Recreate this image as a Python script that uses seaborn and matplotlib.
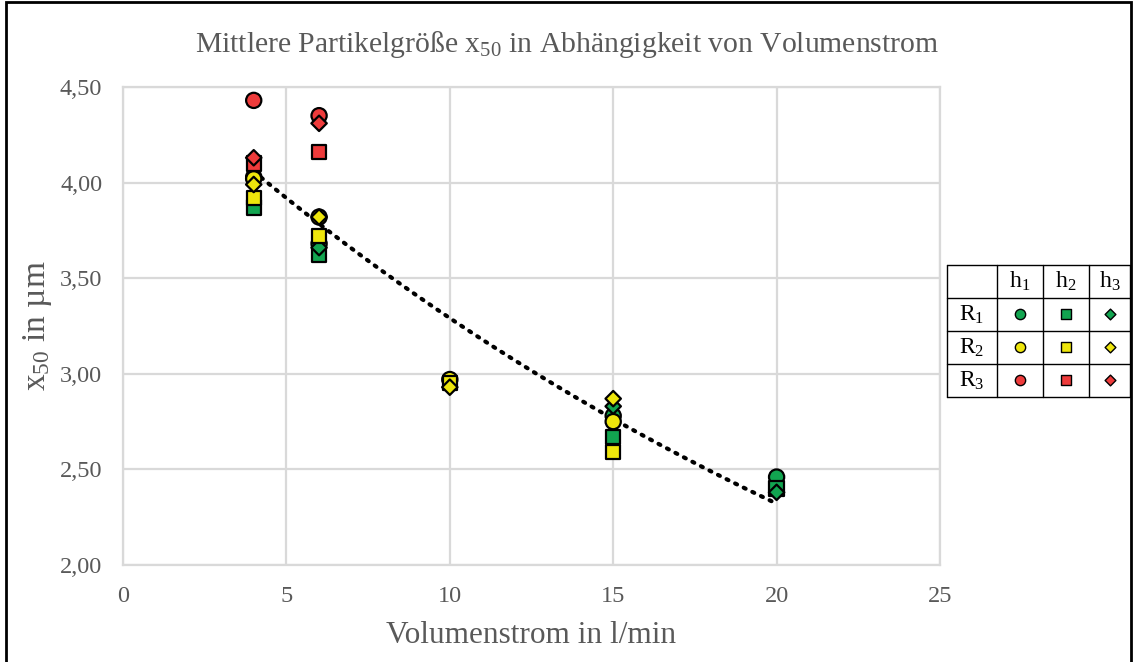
import numpy as np
import pandas as pd
import matplotlib
matplotlib.use("Agg")
import matplotlib.pyplot as plt
import seaborn as sns
from matplotlib.patches import Rectangle
from matplotlib.ticker import FuncFormatter, MultipleLocator

# ---------------- data ----------------
r_labels = ["R1", "R2", "R3"]
h_labels = ["h1", "h2", "h3"]

r1_x = [4, 6, 15, 20]
r1_h1 = [4.03, 3.68, 2.78, 2.46]
r1_h2 = [3.87, 3.62, 2.67, 2.40]
r1_h3 = [4.02, 3.66, 2.83, 2.38]

r2_x = [4, 6, 10, 15]
r2_h1 = [4.02, 3.82, 2.97, 2.75]
r2_h2 = [3.92, 3.72, 2.95, 2.59]
r2_h3 = [3.99, 3.82, 2.93, 2.87]

r3_x = [4, 6]
r3_h1 = [4.43, 4.35]
r3_h2 = [4.10, 4.16]
r3_h3 = [4.13, 4.31]

rows = []
for r, xs, series in [("R1", r1_x, [r1_h1, r1_h2, r1_h3]),
                      ("R2", r2_x, [r2_h1, r2_h2, r2_h3]),
                      ("R3", r3_x, [r3_h1, r3_h2, r3_h3])]:
    for h, ys in zip(h_labels, series):
        for x, y in zip(xs, ys):
            rows.append({"x": x, "y": y, "R": r, "h": h})
df = pd.DataFrame(rows)

palette = {"R1": "#12A550", "R2": "#EEE60C", "R3": "#EE3B3B"}
markers = {"h1": "o", "h2": "s", "h3": "D"}
msizes = {"h1": 120, "h2": 105, "h3": 62}

# ---------------- style ----------------
sns.set_style("white")
plt.rcParams["font.family"] = ["Liberation Serif", "DejaVu Serif"]
plt.rcParams["mathtext.fontset"] = "custom"
plt.rcParams["mathtext.rm"] = "Liberation Serif"
plt.rcParams["mathtext.it"] = "Liberation Serif"
plt.rcParams["mathtext.default"] = "rm"

W, H = 1135, 662
fig = plt.figure(figsize=(W / 100, H / 100), dpi=100)
ax = fig.add_axes([123 / W, 1 - 565 / H, (940 - 123) / W, (565 - 87) / H])

gray = "#595959"
gridc = "#D9D9D9"

# exponential trendline fitted on all data points (like Excel's exp trend)
b, ln_a = np.polyfit(df["x"], np.log(df["y"]), 1)
xt = np.linspace(df["x"].min(), df["x"].max(), 200)
yt = np.exp(ln_a) * np.exp(b * xt)
ax.plot(xt, yt, color="black", lw=3.0, linestyle=(0, (0.5, 1.8)),
        dash_capstyle="round", zorder=2)

sns.scatterplot(data=df, x="x", y="y", hue="R", style="h", size="h",
                palette=palette, markers=markers, sizes=msizes,
                edgecolor="black", linewidth=1.6,
                legend=False, ax=ax, zorder=3)

ax.set_xlim(0, 25)
ax.set_ylim(2.0, 4.5)
ax.xaxis.set_major_locator(MultipleLocator(5))
ax.yaxis.set_major_locator(MultipleLocator(0.5))
ax.yaxis.set_major_formatter(FuncFormatter(lambda v, p: f"{v:.2f}".replace(".", ",")))
ax.grid(True, color=gridc, lw=1.6)
ax.set_axisbelow(True)
for s in ax.spines.values():
    s.set_color(gridc)
    s.set_linewidth(1.6)
ax.tick_params(axis="x", length=0, labelsize=17.5, colors=gray, pad=15)
ax.tick_params(axis="y", length=0, labelsize=17.5, colors=gray, pad=15)
ax.set_xlabel("Volumenstrom in l/min", fontsize=22.5, color=gray, labelpad=10)
ax.xaxis.set_label_coords(537 / W, -0.03, transform=fig.transFigure) if False else None
ax.set_ylabel("x$_{50}$ in µm", fontsize=24, color=gray, labelpad=4)
fig.text(567 / W, 1 - 45 / H,
         "Mittlere Partikelgröße x$_{50}$ in Abhängigkeit von Volumenstrom",
         ha="center", va="center", fontsize=21.3, color=gray)

# ---------------- legend table ----------------
lx0, lx1, ly0, ly1 = 947, 1130, 265, 397
lax = fig.add_axes([lx0 / W, 1 - ly1 / H, (lx1 - lx0) / W, (ly1 - ly0) / H])
col_edges = [947, 997, 1043, 1089, 1130]
col_edges = [(c - lx0) / (lx1 - lx0) for c in col_edges]
lax.set_xlim(0, 1)
lax.set_ylim(4, 0)
lax.axis("off")
for c in col_edges:
    lax.plot([c, c], [0, 4], color="black", lw=1.0, clip_on=False)
for r in range(5):
    lax.plot([0, 1], [r, r], color="black", lw=1.0, clip_on=False)
centers = [(col_edges[i] + col_edges[i + 1]) / 2 for i in range(4)]
for j, h in enumerate(h_labels):
    lax.text(centers[j + 1], 0.5, f"h$_{h[1]}$", ha="center", va="center",
             fontsize=17, color="black")
for i, r in enumerate(r_labels):
    lax.text(centers[0], i + 1.5, f"R$_{r[1]}$", ha="center", va="center",
             fontsize=17, color="black")
    for j, h in enumerate(h_labels):
        lax.scatter([centers[j + 1]], [i + 1.5], marker=markers[h],
                    s={"o": 55, "s": 50, "D": 30}[markers[h]],
                    color=palette[r], edgecolor="black", linewidth=1.0,
                    clip_on=False)

# outer frame
fig.patches.append(Rectangle((6 / W, -0.01), (1131 - 6) / W, 1.01 - 2 / H,
                             transform=fig.transFigure, fill=False,
                             edgecolor="black", lw=2))

fig.savefig("out.png", dpi=100)
